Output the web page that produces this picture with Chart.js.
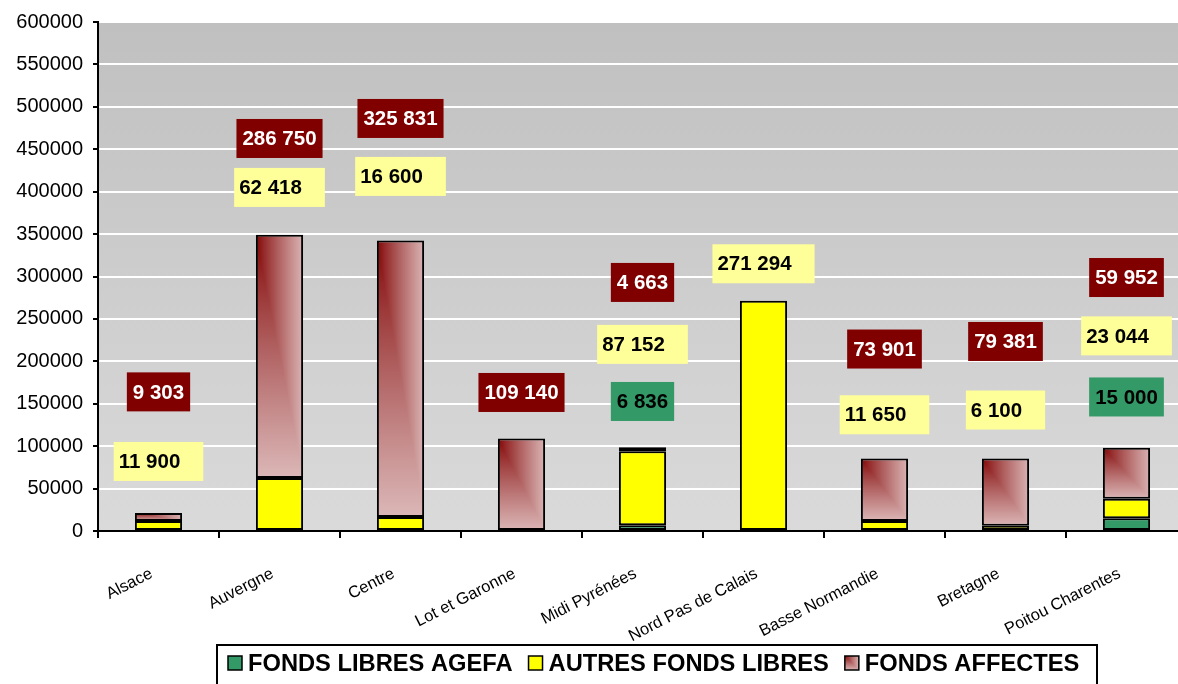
<!DOCTYPE html>
<html>
<head>
<meta charset="utf-8">
<script src="https://cdn.jsdelivr.net/npm/chart.js@4"></script>
<style>
  html, body { margin: 0; padding: 0; background: #ffffff; overflow: hidden; }
  #chart { display: block; }
</style>
</head>
<body>
<canvas id="chart" width="1190" height="684"></canvas>
<script>
// Fonds par région
const categories = ['Alsace', 'Auvergne', 'Centre', 'Lot et Garonne', 'Midi Pyrénées',
  'Nord Pas de Calais', 'Basse Normandie', 'Bretagne', 'Poitou Charentes'];
const fondsAgefa = [0, 0, 0, 0, 6836, 0, 0, 0, 15000];
const autresFonds = [11900, 62418, 16600, 0, 87152, 271294, 11650, 6100, 23044];
const fondsAffectes = [9303, 286750, 325831, 109140, 4663, 0, 73901, 79381, 59952];

// hauteur (en valeur de l'axe) où chaque étiquette est posée
const agefaLabelAt = [null, null, null, null, 152700, null, null, null, 158000];
const autresLabelAt = [82000, 405000, 418000, null, 220000, 315000, 137000, 142600, 230000];
const affectesLabelAt = [164000, 462700, 486300, 163300, 293000, null, 214500, 223400, 298800];

const FONT = '"Liberation Sans", Arial, sans-serif';
const BAR_PCT = 0.39;

function fmt(v) {
  return String(v).replace(/\B(?=(\d{3})+(?!\d))/g, ' ');
}

// dégradé "depuis le coin" (rouge foncé en haut à gauche -> rose)
function cornerPattern(ctx, left, top, w, h) {
  const W = Math.max(2, Math.ceil(w) + 2);
  const H = Math.max(2, Math.ceil(h) + 2);
  const off = document.createElement('canvas');
  off.width = W;
  off.height = H;
  const octx = off.getContext('2d');
  const img = octx.createImageData(W, H);
  const c0 = [128, 0, 0];
  const c1 = [220, 184, 184];
  for (let j = 0; j < H; j++) {
    for (let i = 0; i < W; i++) {
      let t = Math.max(i / (W - 1), j / (H - 1));
      t = Math.pow(t, 0.85);
      const k = (j * W + i) * 4;
      img.data[k] = c0[0] + (c1[0] - c0[0]) * t;
      img.data[k + 1] = c0[1] + (c1[1] - c0[1]) * t;
      img.data[k + 2] = c0[2] + (c1[2] - c0[2]) * t;
      img.data[k + 3] = 255;
    }
  }
  octx.putImageData(img, 0, 0);
  const p = ctx.createPattern(off, 'no-repeat');
  p.setTransform(new DOMMatrix([1, 0, 0, 1, left - 1, top - 1]));
  return p;
}

function affectesFill(c) {
  const chart = c.chart;
  if (!chart.chartArea || c.type !== 'data') return '#dcb8b8';
  const { x, y } = chart.scales;
  const i = c.dataIndex;
  const base = fondsAgefa[i] + autresFonds[i];
  const top = y.getPixelForValue(base + fondsAffectes[i]);
  const bottom = y.getPixelForValue(base);
  const w = ((x.right - x.left) / categories.length) * BAR_PCT;
  const cx = x.getPixelForValue(i);
  return cornerPattern(chart.ctx, cx - w / 2, top, w, bottom - top);
}

// fond gris dégradé de la zone de tracé
const plotBg = {
  id: 'plotBg',
  beforeDraw(chart) {
    const { ctx, chartArea: a } = chart;
    const g = ctx.createLinearGradient(0, a.top, 0, a.bottom);
    g.addColorStop(0, '#c0c0c0');
    g.addColorStop(1, '#dadada');
    ctx.save();
    ctx.fillStyle = g;
    ctx.fillRect(a.left, a.top, a.right - a.left, a.bottom - a.top);
    ctx.restore();
  },
};

// étiquettes encadrées
const valueBoxes = {
  id: 'valueBoxes',
  afterDatasetsDraw(chart) {
    const { ctx } = chart;
    const { x, y } = chart.scales;
    ctx.save();
    ctx.font = 'bold 20.5px ' + FONT;
    ctx.textBaseline = 'middle';
    ctx.textAlign = 'left';
    chart.data.datasets.forEach((ds) => {
      ds.data.forEach((v, i) => {
        const at = ds.labelAt[i];
        if (!v || at == null) return;
        const text = fmt(v);
        const tw = ctx.measureText(text).width;
        const cx = x.getPixelForValue(i);
        const cy = y.getPixelForValue(at);
        const h = 39;
        const leftAligned = ds.boxStyle === 'left';
        const bw = leftAligned ? tw + 28 : tw + 12;
        const left = cx - bw / 2;
        ctx.fillStyle = ds.boxColor;
        ctx.fillRect(left, cy - h / 2, bw, h);
        ctx.fillStyle = ds.textColor;
        ctx.fillText(text, left + (leftAligned ? 5 : 6), cy + 1);
      });
    });
    ctx.restore();
  },
};

// légende encadrée en bas
const boxedLegend = {
  id: 'boxedLegend',
  afterDraw(chart) {
    const { ctx } = chart;
    const boxLeft = 217, boxTop = 645, boxRight = 1097;
    ctx.save();
    ctx.strokeStyle = '#000';
    ctx.lineWidth = 2;
    ctx.strokeRect(boxLeft, boxTop, boxRight - boxLeft, 60);
    ctx.font = 'bold 23.7px ' + FONT;
    ctx.textBaseline = 'middle';
    let px = boxLeft + 11;
    const cy = 663;
    chart.data.datasets.forEach((ds) => {
      const s = 14;
      ctx.fillStyle = ds.legendFill === 'gradient'
        ? cornerPattern(ctx, px, cy - s / 2, s, s)
        : ds.backgroundColor;
      ctx.fillRect(px, cy - s / 2, s, s);
      ctx.lineWidth = 1.5;
      ctx.strokeRect(px, cy - s / 2, s, s);
      px += s + 6;
      ctx.fillStyle = '#000';
      ctx.fillText(ds.label, px, cy + 1);
      px += ctx.measureText(ds.label).width + 16;
    });
    ctx.restore();
  },
};

const nz = (arr) => arr.map((v) => (v === 0 ? null : v));

new Chart(document.getElementById('chart').getContext('2d'), {
  type: 'bar',
  data: {
    labels: categories,
    datasets: [
      {
        label: 'FONDS LIBRES AGEFA',
        data: nz(fondsAgefa),
        backgroundColor: '#339966',
        labelAt: agefaLabelAt,
        boxColor: '#339966',
        textColor: '#000',
        boxStyle: 'center',
      },
      {
        label: 'AUTRES FONDS LIBRES',
        data: nz(autresFonds),
        backgroundColor: '#ffff00',
        labelAt: autresLabelAt,
        boxColor: '#ffff99',
        textColor: '#000',
        boxStyle: 'left',
      },
      {
        label: 'FONDS AFFECTES',
        data: nz(fondsAffectes),
        backgroundColor: affectesFill,
        legendFill: 'gradient',
        labelAt: affectesLabelAt,
        boxColor: '#800000',
        textColor: '#fff',
        boxStyle: 'center',
      },
    ],
  },
  options: {
    responsive: false,
    animation: false,
    layout: { padding: { top: 22, right: 3, bottom: 0, left: 0 } },
    datasets: {
      bar: {
        borderColor: '#000',
        borderWidth: 2,
        borderSkipped: false,
        barPercentage: BAR_PCT,
        categoryPercentage: 1,
      },
    },
    plugins: {
      legend: { display: false },
      tooltip: { enabled: false },
    },
    scales: {
      x: {
        stacked: true,
        afterFit: (s) => { s.height = 153; },
        border: { color: '#000', width: 2 },
        grid: {
          offset: true,
          drawOnChartArea: false,
          color: '#000',
          lineWidth: 2,
          tickLength: 7,
        },
        ticks: {
          autoSkip: false,
          minRotation: 27,
          maxRotation: 27,
          padding: 26,
          labelOffset: -7,
          color: '#000',
          font: { family: FONT, size: 16.5 },
        },
      },
      y: {
        stacked: true,
        min: 0,
        max: 600000,
        afterFit: (s) => { s.width = 98; },
        border: { color: '#000', width: 2 },
        grid: {
          color: '#ffffff',
          lineWidth: 2,
          tickColor: '#000',
          tickWidth: 2,
          tickLength: 5,
        },
        ticks: {
          stepSize: 50000,
          padding: 10,
          color: '#000',
          font: { family: FONT, size: 20 },
          callback: (v) => String(v),
        },
      },
    },
  },
  plugins: [plotBg, valueBoxes, boxedLegend],
});
</script>
</body>
</html>
